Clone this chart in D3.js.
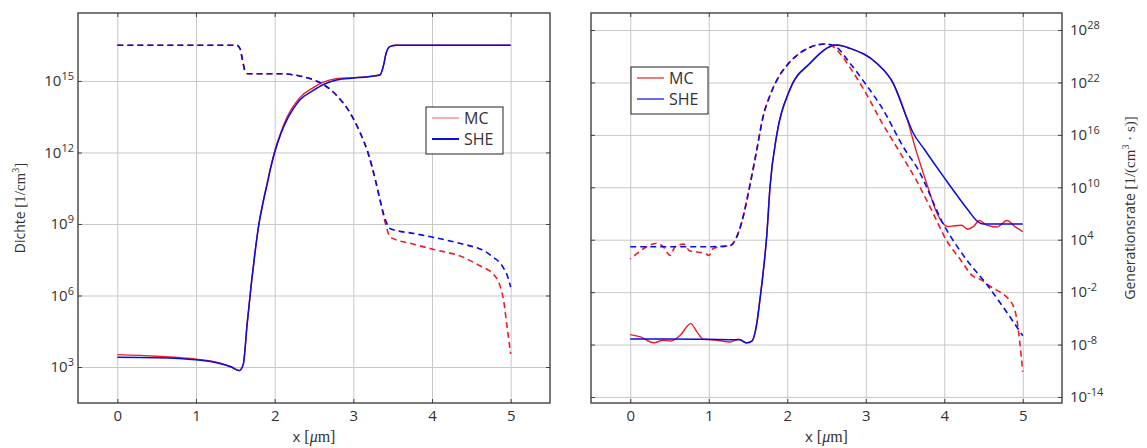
<!DOCTYPE html>
<meta charset="utf-8">
<style>
  body { margin: 0; background: #fff; }
  svg text { font-family: "Open Sans", sans-serif; fill: #333; }
  .serif { font-family: "Liberation Serif", "DejaVu Serif", serif; }
  .grid line { stroke: #c8c8c8; stroke-width: 1; }
  .grid path, .marks path { display: none; }
  .marks line { stroke: #444; stroke-width: 1; }
  .frame { fill: none; stroke: #333; stroke-width: 1.3; }
  .line { fill: none; }
</style>
<svg width="1147" height="448"></svg>
<script src="https://d3js.org/d3.v7.min.js"></script>
<script>
  // all y values are log10 of the plotted quantity
  var xTicks = [0, 1, 2, 3, 4, 5];

  // ---- left panel: Dichte [1/cm^3] ----
  var dichteTicks = [3, 6, 9, 12, 15];
  var dichteSolidX   = [0, 0.5, 1.0, 1.3, 1.45, 1.55, 1.6, 1.65, 1.7, 1.75, 1.8, 1.85, 1.9, 1.95, 2.0, 2.08, 2.16, 2.24, 2.32, 2.49, 2.62, 2.8, 3.0, 3.2, 3.34, 3.38, 3.42, 3.47, 3.55, 4.0, 5.0];
  var dichteSolidMC  = [3.52, 3.45, 3.33, 3.17, 3.0, 2.85, 3.1, 4.8, 6.4, 7.8, 9.0, 9.9, 10.65, 11.4, 12.05, 12.85, 13.5, 13.95, 14.3, 14.72, 14.95, 15.1, 15.14, 15.19, 15.26, 15.6, 16.2, 16.45, 16.5, 16.5, 16.5];
  var dichteSolidSHE = [3.41, 3.39, 3.3, 3.15, 3.0, 2.85, 3.1, 4.8, 6.4, 7.8, 9.0, 9.85, 10.6, 11.35, 12.0, 12.8, 13.4, 13.85, 14.2, 14.6, 14.85, 15.05, 15.12, 15.18, 15.25, 15.6, 16.2, 16.45, 16.5, 16.5, 16.5];
  var dichteDashX    = [0, 1.0, 1.52, 1.56, 1.59, 1.62, 1.66, 2.07, 2.33, 2.49, 2.62, 2.8, 2.96, 3.09, 3.19, 3.28, 3.34, 3.41, 3.47, 3.77, 4.0, 4.4, 4.61, 4.7, 4.78, 4.87, 4.91, 4.95, 5.0];
  var dichteDashMC   = [16.5, 16.5, 16.5, 16.35, 15.9, 15.45, 15.3, 15.3, 15.2, 15.05, 14.85, 14.35, 13.65, 12.8, 11.95, 10.85, 10.0, 9.0, 8.45, 8.15, 7.95, 7.6, 7.25, 7.1, 6.9, 6.35, 5.8, 4.8, 3.55];
  var dichteDashSHE  = [16.5, 16.5, 16.5, 16.35, 15.9, 15.45, 15.3, 15.3, 15.2, 15.05, 14.85, 14.35, 13.65, 12.8, 11.95, 10.85, 10.0, 9.15, 8.8, 8.6, 8.45, 8.15, 7.95, 7.8, 7.6, 7.35, 7.15, 6.9, 6.35];

  // ---- right panel: Generationsrate [1/(cm^3 s)] ----
  var genTicks = [-14, -8, -2, 4, 10, 16, 22, 28];
  var genSolidMCx  = [0, 0.13, 0.3, 0.42, 0.51, 0.64, 0.77, 0.85, 0.93, 1.1, 1.27, 1.38, 1.48, 1.55, 1.61, 1.65, 1.69, 1.74, 1.78, 1.87, 2.03, 2.29, 2.63, 2.8, 3.14, 3.35, 3.52, 3.64, 3.79, 3.9, 3.98, 4.05, 4.13, 4.22, 4.3, 4.37, 4.45, 4.54, 4.67, 4.8, 4.9, 5.0];
  var genSolidMC   = [-6.86, -7.13, -7.8, -7.5, -7.6, -6.9, -5.6, -6.55, -7.4, -7.5, -7.7, -7.4, -7.8, -7.6, -5.7, -3.0, 0.0, 4.6, 10.0, 16.2, 21.1, 24.2, 26.3, 25.9, 24.2, 21.9, 18.0, 14.25, 10.05, 7.2, 5.9, 5.5, 5.6, 5.66, 5.2, 5.5, 6.2, 5.66, 5.45, 6.2, 5.5, 4.93];
  var genSolidSHEx = [0, 0.5, 1.0, 1.4, 1.48, 1.55, 1.61, 1.65, 1.69, 1.74, 1.78, 1.87, 2.03, 2.29, 2.63, 2.8, 3.14, 3.35, 3.52, 3.6, 3.75, 4.0, 4.32, 4.41, 4.5, 5.0];
  var genSolidSHE  = [-7.36, -7.36, -7.4, -7.45, -7.8, -7.6, -5.7, -3.0, 0.0, 4.6, 10.0, 16.2, 21.1, 24.2, 26.3, 25.9, 24.2, 21.9, 18.0, 16.3, 14.3, 11.1, 7.2, 6.2, 5.8, 5.8];
  var genDashMCx   = [0, 0.085, 0.21, 0.34, 0.42, 0.51, 0.57, 0.68, 0.76, 0.85, 0.96, 1.0, 1.06, 1.15, 1.27, 1.35, 1.42, 1.53, 1.61, 1.69, 1.78, 1.87, 2.0, 2.2, 2.48, 2.6, 2.7, 2.8, 3.0, 3.2, 3.43, 3.65, 3.86, 4.03, 4.2, 4.37, 4.47, 4.58, 4.87, 4.92, 5.0];
  var genDashMC    = [1.8, 2.4, 3.2, 3.6, 3.2, 2.2, 3.2, 3.5, 2.7, 2.6, 2.4, 2.2, 3.0, 3.2, 3.3, 4.2, 6.0, 10.5, 14.2, 18.0, 20.5, 22.3, 24.0, 25.6, 26.4, 26.0, 25.0, 23.7, 20.8, 17.5, 14.06, 10.7, 7.0, 3.9, 1.8, -0.2, -0.6, -1.3, -3.4, -4.9, -11.1];
  var genDashSHEx  = [0, 1.0, 1.27, 1.35, 1.42, 1.53, 1.61, 1.69, 1.78, 1.87, 2.0, 2.2, 2.48, 2.6, 2.8, 3.0, 3.2, 3.5, 3.65, 4.0, 4.26, 4.54, 5.0];
  var genDashSHE   = [3.2, 3.2, 3.3, 4.2, 6.0, 10.5, 14.2, 18.0, 20.5, 22.3, 24.0, 25.6, 26.4, 26.2, 24.2, 21.8, 19.2, 14.3, 12.3, 5.6, 2.0, -1.1, -7.0];

  var red = "#ee1d23", blue = "#0a0ae6";
  var svg = d3.select("svg");
  var plotTop = 13, plotBottom = 403;

  function zip(xs, ys) {
    return xs.map(function (d, i) { return [d, Math.pow(10, ys[i])]; });
  }

  function supLabels(sel) {
    sel.selectAll(".tick text").each(function (d) {
      var t = d3.select(this), e = Math.round(Math.log10(d));
      t.text(null).style("font-size", "15px");
      t.append("tspan").text("10");
      t.append("tspan").attr("dy", -6).style("font-size", "11px").text(e);
    });
  }

  function panel(o) {
    var g = svg.append("g");
    var x = d3.scaleLinear().domain([-0.5, 5.5]).range([o.left, o.right]);
    var y = d3.scaleLog().domain(o.yDomain).range([plotBottom, plotTop]);
    var yVals = o.yTicks.map(function (e) { return Math.pow(10, e); });
    var w = o.right - o.left, h = plotBottom - plotTop;

    // grid + labels
    g.append("g").attr("class", "grid")
      .attr("transform", "translate(0," + plotBottom + ")")
      .call(d3.axisBottom(x).tickValues(xTicks).tickSize(-h).tickPadding(7).tickFormat(d3.format("d")))
      .selectAll("text").style("font-size", "15px");

    var ya = o.rightAxis ? d3.axisRight(y) : d3.axisLeft(y);
    g.append("g").attr("class", "grid")
      .attr("transform", "translate(" + (o.rightAxis ? o.right : o.left) + ",0)")
      .call(ya.tickValues(yVals).tickSize(-w).tickPadding(o.rightAxis ? 8 : 4))
      .call(supLabels);

    // inner tick marks on all four sides
    var mk = g.append("g").attr("class", "marks");
    mk.append("g").attr("transform", "translate(0," + plotBottom + ")")
      .call(d3.axisBottom(x).tickValues(xTicks).tickSize(-4).tickFormat(""));
    mk.append("g").attr("transform", "translate(0," + plotTop + ")")
      .call(d3.axisTop(x).tickValues(xTicks).tickSize(-4).tickFormat(""));
    mk.append("g").attr("transform", "translate(" + o.left + ",0)")
      .call(d3.axisLeft(y).tickValues(yVals).tickSize(-4).tickFormat(""));
    mk.append("g").attr("transform", "translate(" + o.right + ",0)")
      .call(d3.axisRight(y).tickValues(yVals).tickSize(-4).tickFormat(""));

    g.append("rect").attr("class", "frame")
      .attr("x", o.left).attr("y", plotTop).attr("width", w).attr("height", h);

    var line = d3.line()
      .x(function (d) { return x(d[0]); })
      .y(function (d) { return y(d[1]); })
      .curve(d3.curveMonotoneX);

    o.series.forEach(function (s) {
      g.append("path").attr("class", "line")
        .attr("d", line(s.data))
        .attr("stroke", s.color)
        .attr("stroke-width", s.width)
        .attr("stroke-dasharray", s.dash ? "6,4" : null)
        .attr("stroke-dashoffset", s.offset || 0);
    });

    // x label
    var xl = g.append("text")
      .attr("x", (o.left + o.right) / 2).attr("y", 442)
      .attr("text-anchor", "middle").style("font-size", "15px");
    xl.append("tspan").text("x ");
    xl.append("tspan").attr("class", "serif").style("font-size", "16px").text("[");
    xl.append("tspan").attr("class", "serif").style("font-size", "16px").style("font-style", "italic").text("μ");
    xl.append("tspan").attr("class", "serif").style("font-size", "16px").text("m]");

    // legend
    var L = o.legend;
    g.append("rect").attr("x", L.x).attr("y", L.y).attr("width", 77).attr("height", 47)
      .attr("fill", "#fff").attr("stroke", "#222").attr("stroke-width", 1);
    [["MC", red, L.mcW], ["SHE", blue, L.sheW]].forEach(function (e, i) {
      var yy = L.y + 11 + i * 21;
      g.append("line").attr("x1", L.x + 6).attr("x2", L.x + 33)
        .attr("y1", yy).attr("y2", yy)
        .attr("stroke", e[1]).attr("stroke-width", e[2]).attr("stroke-opacity", i === 0 && o.fadeMC ? 0.7 : 1);
      g.append("text").attr("x", L.x + 38).attr("y", yy + 6)
        .style("font-size", "16px").text(e[0]);
    });
    return g;
  }

  panel({
    left: 78, right: 550,
    yDomain: [Math.pow(10, 1.49), Math.pow(10, 17.85)],
    yTicks: dichteTicks,
    legend: { x: 426, y: 107, mcW: 1, sheW: 2 },
    fadeMC: true,
    series: [
      { data: zip(dichteSolidX, dichteSolidMC), color: red, width: 1.4 },
      { data: zip(dichteSolidX, dichteSolidSHE), color: blue, width: 1.5 },
      { data: zip(dichteDashX, dichteDashMC), color: red, width: 1.6, dash: true },
      { data: zip(dichteDashX, dichteDashSHE), color: blue, width: 1.6, dash: true }
    ]
  });

  panel({
    left: 591, right: 1062, rightAxis: true,
    yDomain: [Math.pow(10, -14.69), Math.pow(10, 29.95)],
    yTicks: genTicks,
    legend: { x: 631, y: 67, mcW: 1.2, sheW: 1.2 },
    series: [
      { data: zip(genSolidMCx, genSolidMC), color: red, width: 1.4 },
      { data: zip(genSolidSHEx, genSolidSHE), color: blue, width: 1.5 },
      { data: zip(genDashMCx, genDashMC), color: red, width: 1.6, dash: true, offset: 5 },
      { data: zip(genDashSHEx, genDashSHE), color: blue, width: 1.6, dash: true }
    ]
  });

  // y labels
  var yl = svg.append("text").attr("transform", "translate(25,208) rotate(-90)")
    .attr("text-anchor", "middle").style("font-size", "14px");
  yl.append("tspan").text("Dichte ");
  yl.append("tspan").attr("class", "serif").style("font-size", "15px").text("[1/cm");
  yl.append("tspan").attr("class", "serif").attr("dy", -6).style("font-size", "10px").text("3");
  yl.append("tspan").attr("class", "serif").attr("dy", 6).style("font-size", "15px").text("]");

  var yr = svg.append("text").attr("transform", "translate(1135,208) rotate(-90)")
    .attr("text-anchor", "middle").style("font-size", "14px");
  yr.append("tspan").text("Generationsrate ");
  yr.append("tspan").attr("class", "serif").style("font-size", "15px").text("[1/(cm");
  yr.append("tspan").attr("class", "serif").attr("dy", -6).style("font-size", "10px").text("3");
  yr.append("tspan").attr("class", "serif").attr("dy", 6).style("font-size", "15px").text(" · s)]");
</script>
